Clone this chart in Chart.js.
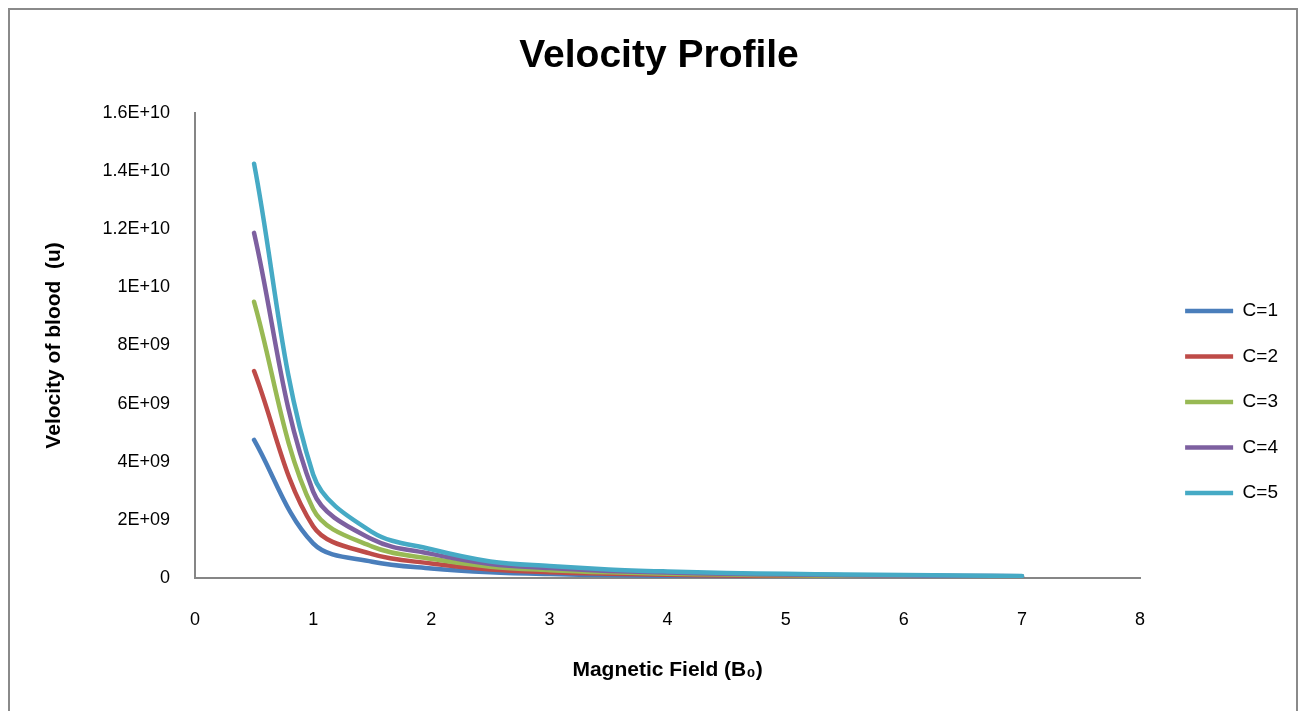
<!DOCTYPE html>
<html>
<head>
<meta charset="utf-8">
<title>Velocity Profile</title>
<script src="https://cdn.jsdelivr.net/npm/chart.js@4.4.1/dist/chart.umd.min.js"></script>
<style>
  html, body { margin: 0; padding: 0; background: #fff; }
  #wrap { position: relative; width: 1302px; height: 711px; overflow: hidden; }
  #frame { position: absolute; left: 8px; top: 8px; width: 1290px; height: 720px; border: 2px solid #8a8a8a; box-sizing: border-box; }
  canvas { position: absolute; left: 0; top: 0; }
</style>
</head>
<body>
<div id="wrap">
  <div id="frame"></div>
  <canvas id="velocityChart" width="1302" height="711"></canvas>
</div>
<script>
// Magnetic field B0 (x) and blood velocity u (y) for each C
const fieldValues = [0.5, 1, 1.5, 2, 2.5, 3, 3.5, 4, 4.5, 5, 5.5, 6, 6.5, 7];
const seriesNames = ['C=1', 'C=2', 'C=3', 'C=4', 'C=5'];
const velocityC1 = [4.75e9, 1.19e9, 0.56e9, 0.33e9, 0.20e9, 0.135e9, 0.10e9, 0.075e9, 0.06e9, 0.048e9, 0.04e9, 0.033e9, 0.028e9, 0.024e9];
const velocityC2 = [7.12e9, 1.78e9, 0.82e9, 0.50e9, 0.29e9, 0.20e9, 0.148e9, 0.112e9, 0.088e9, 0.071e9, 0.059e9, 0.049e9, 0.042e9, 0.036e9];
const velocityC3 = [9.5e9, 2.37e9, 1.08e9, 0.66e9, 0.39e9, 0.27e9, 0.195e9, 0.148e9, 0.117e9, 0.095e9, 0.079e9, 0.066e9, 0.056e9, 0.048e9];
const velocityC4 = [11.87e9, 2.97e9, 1.33e9, 0.83e9, 0.48e9, 0.34e9, 0.245e9, 0.186e9, 0.147e9, 0.119e9, 0.098e9, 0.082e9, 0.070e9, 0.061e9];
const velocityC5 = [14.25e9, 3.56e9, 1.58e9, 0.99e9, 0.57e9, 0.41e9, 0.295e9, 0.225e9, 0.176e9, 0.143e9, 0.118e9, 0.099e9, 0.084e9, 0.073e9];
const yTickLabels = ['0', '2E+09', '4E+09', '6E+09', '8E+09', '1E+10', '1.2E+10', '1.4E+10', '1.6E+10'];
const seriesColors = ['#4a7ebb', '#be4b48', '#98b954', '#7d60a0', '#46aac5'];

const fontFamily = "'Liberation Sans', Arial, sans-serif";
const axisGray = '#868686';

const allSeries = [velocityC1, velocityC2, velocityC3, velocityC4, velocityC5];

const datasets = allSeries.map((values, i) => ({
    label: seriesNames[i],
    data: values.map((v, j) => ({ x: fieldValues[j], y: v })),
    borderColor: seriesColors[i],
    backgroundColor: seriesColors[i],
    borderWidth: 4.5,
    borderCapStyle: 'round',
    borderJoinStyle: 'round',
    pointRadius: 0,
    pointStyle: 'line',
    tension: 0.35,
    fill: false,
    order: allSeries.length - i   // later series drawn on top
}));

const ctx = document.getElementById('velocityChart').getContext('2d');

new Chart(ctx, {
    type: 'line',
    data: { datasets: datasets },
    options: {
        responsive: false,
        animation: false,
        layout: {
            padding: { top: 25, left: 30, right: 14, bottom: 10 }
        },
        plugins: {
            title: {
                display: true,
                text: 'Velocity Profile',
                color: '#000',
                font: { family: fontFamily, size: 39, weight: 'bold' },
                padding: { top: 8, bottom: 33 }
            },
            legend: {
                position: 'right',
                // empty legend title only pushes the items down
                title: { display: true, text: '', font: { size: 10 }, padding: { top: 66, bottom: 0 } },
                labels: {
                    color: '#000',
                    font: { family: fontFamily, size: 19 },
                    usePointStyle: true,
                    pointStyleWidth: 48,
                    boxHeight: 4,
                    padding: 26.5,
                    sort: (a, b) => a.datasetIndex - b.datasetIndex
                }
            },
            tooltip: { enabled: false }
        },
        scales: {
            x: {
                type: 'linear',
                min: 0,
                max: 8,
                grid: { display: false, drawTicks: false },
                border: { color: axisGray, width: 2 },
                ticks: {
                    stepSize: 1,
                    padding: 31,
                    color: '#000',
                    font: { family: fontFamily, size: 18 }
                },
                title: {
                    display: true,
                    text: 'Magnetic Field (B₀)',
                    color: '#000',
                    font: { family: fontFamily, size: 21, weight: 'bold' },
                    padding: { bottom: 18 }
                },
                afterFit: (scale) => { scale.height = 123; }
            },
            y: {
                min: 0,
                max: 1.6e10,
                grid: { display: false, drawTicks: false },
                border: { color: axisGray, width: 2 },
                ticks: {
                    stepSize: 2e9,
                    padding: 25,
                    color: '#000',
                    font: { family: fontFamily, size: 18 },
                    callback: (value, index) => yTickLabels[index]
                },
                title: {
                    display: true,
                    text: 'Velocity of blood  (u)',
                    color: '#000',
                    font: { family: fontFamily, size: 21, weight: 'bold' },
                    padding: { top: 12 }
                },
                afterFit: (scale) => { scale.width = 165; }
            },
            // empty spacer between plot and legend
            gap: {
                position: 'right',
                display: true,
                grid: { display: false, drawTicks: false },
                border: { display: false },
                ticks: { display: false },
                afterFit: (scale) => { scale.width = 18.5; }
            }
        }
    }
});
</script>
</body>
</html>
